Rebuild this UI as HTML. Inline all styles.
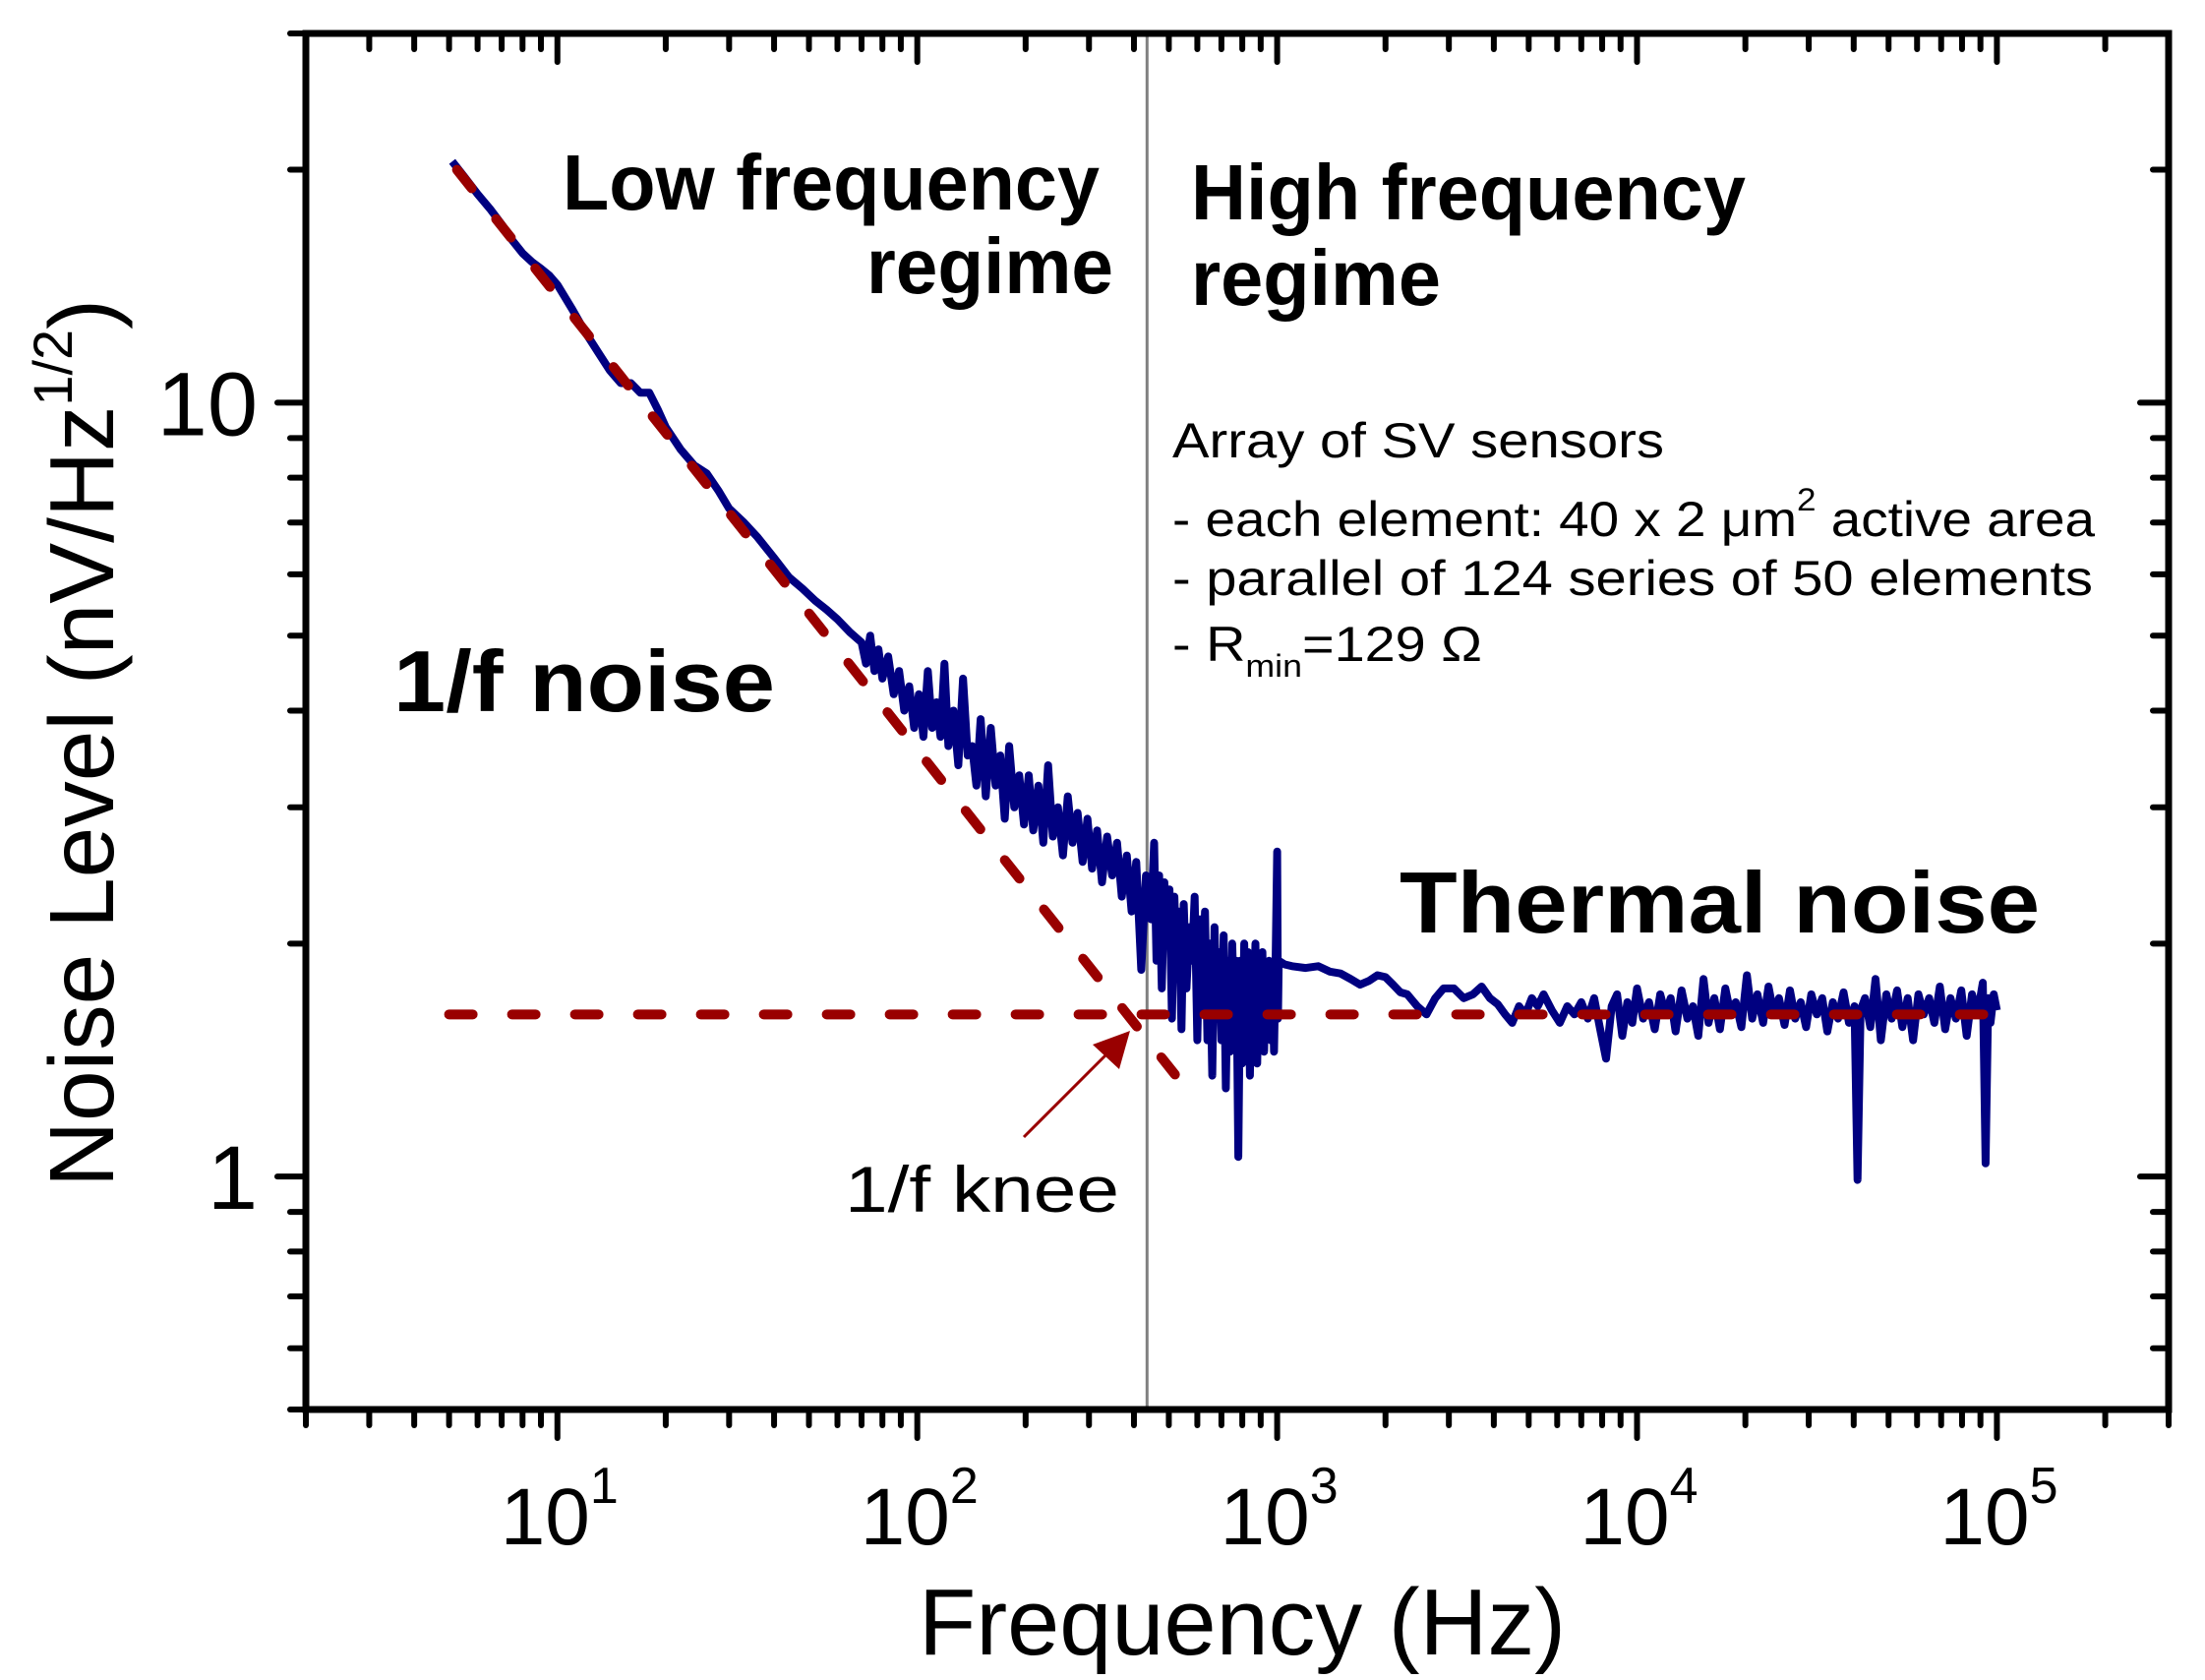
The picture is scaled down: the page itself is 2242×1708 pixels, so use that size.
<!DOCTYPE html>
<html><head><meta charset="utf-8"><title>Noise spectrum</title>
<style>html,body{margin:0;padding:0;background:#fff}svg{display:block}text{font-family:"Liberation Sans",Arial,sans-serif;fill:#000}</style>
</head><body>
<svg id="chart" xmlns="http://www.w3.org/2000/svg" width="2242" height="1708" viewBox="0 0 2242 1708">
<rect x="0" y="0" width="2242" height="1708" fill="#fff"/>
<g id="plot"></g>
<text x="934" y="1682" font-size="96" textLength="658" lengthAdjust="spacingAndGlyphs">Frequency (Hz)</text>
<text transform="translate(115,1207) rotate(-90)" font-size="93" textLength="903" lengthAdjust="spacingAndGlyphs">Noise Level (nV/Hz<tspan font-size="56" dy="-42">1/2</tspan><tspan dy="42">)</tspan></text>
<text x="572" y="213" font-size="80" font-weight="bold" textLength="546" lengthAdjust="spacingAndGlyphs">Low frequency</text>
<text x="881" y="298" font-size="80" font-weight="bold" textLength="251" lengthAdjust="spacingAndGlyphs">regime</text>
<text x="1211" y="223" font-size="80" font-weight="bold" textLength="564" lengthAdjust="spacingAndGlyphs">High frequency</text>
<text x="1211" y="310" font-size="80" font-weight="bold" textLength="254" lengthAdjust="spacingAndGlyphs">regime</text>
<text x="400" y="723" font-size="88" font-weight="bold" textLength="388" lengthAdjust="spacingAndGlyphs">1/f noise</text>
<text x="1423" y="948" font-size="88" font-weight="bold" textLength="651" lengthAdjust="spacingAndGlyphs">Thermal noise</text>
<text x="859" y="1232" font-size="66" textLength="279" lengthAdjust="spacingAndGlyphs">1/f knee</text>
<g font-size="50">
<text x="1192" y="465" textLength="500" lengthAdjust="spacingAndGlyphs">Array of SV sensors</text>
<text x="1192" y="545" textLength="938" lengthAdjust="spacingAndGlyphs">- each element: 40 x 2 μm<tspan font-size="32" dy="-26">2</tspan><tspan dy="26"> active area</tspan></text>
<text x="1192" y="605" textLength="936" lengthAdjust="spacingAndGlyphs">- parallel of 124 series of 50 elements</text>
<text x="1192" y="672" textLength="315" lengthAdjust="spacingAndGlyphs">- R<tspan font-size="32" dy="16">min</tspan><tspan dy="-16">=129 Ω</tspan></text>
</g>
</svg>
<script>
const freqs = [5.1,5.5,6,6.5,7,7.5,8,8.5,9,9.5,10,11,12,13,14,15,16,17,18,19,20,22,24,26,28,30,33,36,40,44,48,52,56,60,65,
70,72,74,76,78,80,83,86,89,92,95,98,101,104,107,110,113,116,119,122,126,130,134,138,142,146,150,155,160,165,170,175,180,186,192,198,204,210,217,224,231,238,246,254,262,270,279,288,297,306,316,326,337,348,359,370,382,394,406,419,432,446,455,
462,470,478,486,494,502,510,518,526,534,542,550,560,570,580,590,600,610,620,630,640,650,660,670,680,690,700,710,720,730,740,750,760,770,780,790,800,810,820,830,840,850,860,870,880,890,900,910,920,930,940,950,960,970,980,990,1000,1005,1010,
1050,1100,1200,1300,1400,1500,1600,1700,1800,1900,2000,2100,2200,2300,2450,2600,2750,2900,3100,3300,3500,3700,3900,4100,4300,4500,4700,4900,5100,5300,5500,5800,6100,6400,6700,7000,7300,
7600,7900,8200,8500,8800,9100,9400,9700,10000,10400,10800,11200,11600,12000,12400,12800,13300,13800,14300,14800,15300,15800,16400,17000,17600,18200,18800,19500,20200,20900,21600,22400,23200,24000,24800,25700,26600,27500,28500,29500,30500,31600,32700,33800,35000,36200,37500,38800,40200,41000,41800,43000,44500,46000,47600,49300,51000,52800,54600,56500,58500,60500,62600,64800,67000,69400,71800,74300,76900,79600,82400,85300,88300,91400,93000,94600,96000,98000,100000];
const noise = [20.5,19.6,18.6,17.8,17.0,16.2,15.6,15.2,14.9,14.6,14.2,13.2,12.3,11.6,11.0,10.6,10.6,10.3,10.3,9.8,9.3,8.7,8.3,8.1,7.7,7.3,7.0,6.7,6.3,5.95,5.75,5.55,5.4,5.25,5.05,
4.9,4.6,5.0,4.5,4.8,4.4,4.7,4.2,4.5,4.0,4.3,3.8,4.2,3.7,4.5,3.8,4.1,3.7,4.6,3.6,4.0,3.4,4.4,3.5,3.6,3.2,3.9,3.1,3.8,3.2,3.5,2.9,3.6,3.0,3.3,2.85,3.3,2.8,3.2,2.7,3.4,2.75,3.0,2.6,3.1,2.7,2.95,2.55,2.9,2.5,2.8,2.4,2.75,2.45,2.7,2.3,2.6,2.2,2.55,1.85,2.45,2.15,2.7,
1.9,2.45,1.75,2.4,2.0,2.35,1.6,2.3,1.85,2.2,1.55,2.25,1.75,2.1,1.9,2.3,1.5,2.15,1.65,2.2,1.5,2.0,1.35,2.1,1.6,1.95,1.5,2.05,1.3,1.9,1.45,2.0,1.6,1.9,1.06,1.9,1.4,2.0,1.5,1.95,1.35,1.9,1.6,2.0,1.4,1.85,1.5,1.95,1.45,1.85,1.6,1.9,1.5,1.85,1.45,1.9,2.63,1.6,1.9,
1.88,1.87,1.86,1.87,1.84,1.83,1.80,1.77,1.79,1.82,1.81,1.77,1.73,1.72,1.66,1.62,1.70,1.75,1.75,1.70,1.72,1.76,1.70,1.67,1.62,1.58,1.66,1.62,1.70,1.66,1.72,1.64,1.58,1.66,1.62,1.68,1.60,
1.70,1.55,1.42,1.66,1.72,1.52,1.68,1.58,1.75,1.60,1.68,1.55,1.72,1.62,1.70,1.54,1.74,1.60,1.66,1.52,1.80,1.58,1.70,1.55,1.75,1.62,1.68,1.56,1.82,1.60,1.72,1.58,1.76,1.62,1.70,1.57,1.74,1.60,1.68,1.56,1.72,1.62,1.70,1.54,1.68,1.60,1.73,1.58,1.66,0.99,1.64,1.70,1.56,1.80,1.50,1.72,1.60,1.74,1.56,1.70,1.50,1.72,1.62,1.70,1.58,1.76,1.55,1.70,1.60,1.74,1.52,1.72,1.62,1.78,1.04,1.70,1.58,1.72,1.64];
const fitAmp = [52.9];
const fitExp = [0.586];
const fitRange = [5.26, 520];
const thermalLevel = [1.62];
const thermalRange = [5, 100000];
const kneeFreq = [435];
const xMajorTicks = [10, 100, 1000, 10000, 100000];
const xMajorLabels = ["1", "2", "3", "4", "5"];
const yMajorTicks = [1, 10];
const yMajorLabels = ["1", "10"];

const X0 = 311, X1 = 2205, Y0 = 34, Y1 = 1433;
const xLogMin = Math.log10(2), xLogMax = Math.log10(300000);
const yLogMin = Math.log10(0.5), yLogMax = Math.log10(30);
function xs(f){ return X0 + (Math.log10(f) - xLogMin) / (xLogMax - xLogMin) * (X1 - X0); }
function ys(v){ return Y1 - (Math.log10(v) - yLogMin) / (yLogMax - yLogMin) * (Y1 - Y0); }

const NS = "http://www.w3.org/2000/svg";
const plot = document.getElementById("plot");
function mk(tag, attrs, parent){ const e = document.createElementNS(NS, tag); for (const k in attrs) e.setAttribute(k, attrs[k]); (parent||plot).appendChild(e); return e; }

const sep = mk("line", {x1: xs(kneeFreq[0]), x2: xs(kneeFreq[0]), y1: Y0, y2: Y1, stroke: "#808080", "stroke-width": 3});



let d = "";
for (let i = 0; i < freqs.length; i++) d += (i ? "L" : "M") + xs(freqs[i]).toFixed(1) + "," + ys(noise[i]).toFixed(1);
const dataLine = mk("path", {d: d, fill: "none", stroke: "#000080", "stroke-width": 8, "stroke-linejoin": "round"});



const fitLine = mk("line", {x1: xs(fitRange[0]), y1: ys(fitAmp[0]*Math.pow(fitRange[0], -fitExp[0])), x2: xs(fitRange[1]), y2: ys(fitAmp[0]*Math.pow(fitRange[1], -fitExp[0])), stroke: "#990000", "stroke-width": 10, "stroke-dasharray": "24 40", "stroke-linecap": "round"});


const thLine = mk("line", {x1: xs(thermalRange[0]), y1: ys(thermalLevel[0]), x2: xs(thermalRange[1]), y2: ys(thermalLevel[0]), stroke: "#990000", "stroke-width": 10, "stroke-dasharray": "24 40", "stroke-linecap": "round"});



const arr = mk("line", {x1: 1041, y1: 1156, x2: 1130, y2: 1067, stroke: "#990000", "stroke-width": 3});


const head = mk("polygon", {points: "1149,1048 1138,1087 1111,1062", fill: "#990000"});



const frame = mk("rect", {x: X0, y: Y0, width: X1 - X0, height: Y1 - Y0, fill: "none", stroke: "#000", "stroke-width": 7});



const tg = mk("g", {stroke: "#000", "stroke-width": 6, "stroke-linecap": "round"});


for (let dec = 1; dec <= 100000; dec *= 10) {
  for (let m = 1; m <= 9; m++) {
    const f = dec * m;
    if (f < 2 || f > 300000) continue;
    const L = m === 1 ? 29 : 16, x = xs(f);
    mk("line", {x1: x, x2: x, y1: Y1, y2: Y1 + L}, tg);
    mk("line", {x1: x, x2: x, y1: Y0, y2: Y0 + L}, tg);
  }
}
[0.5,0.6,0.7,0.8,0.9,1,2,3,4,5,6,7,8,9,10,20,30].forEach(v => {
  const L = (v === 1 || v === 10) ? 29 : 16, y = ys(v);
  mk("line", {x1: X0, x2: X0 - L, y1: y, y2: y}, tg);
  mk("line", {x1: X1, x2: X1 - L, y1: y, y2: y}, tg);
});

xMajorTicks.forEach((f, i) => {
  const t = mk("text", {x: xs(f) + 2, y: 1570, "font-size": 82, "text-anchor": "middle"});
  
  
  t.textContent = "10";
  const s = document.createElementNS(NS, "tspan");
  s.setAttribute("font-size", 52); s.setAttribute("dy", -42);
  s.textContent = xMajorLabels[i];
  t.appendChild(s);
});
yMajorTicks.forEach((v, i) => {
  const t = mk("text", {x: 262, y: ys(v) + 33, "font-size": 92, "text-anchor": "end"});
  
  
  t.textContent = yMajorLabels[i];
});
</script>
</body></html>
